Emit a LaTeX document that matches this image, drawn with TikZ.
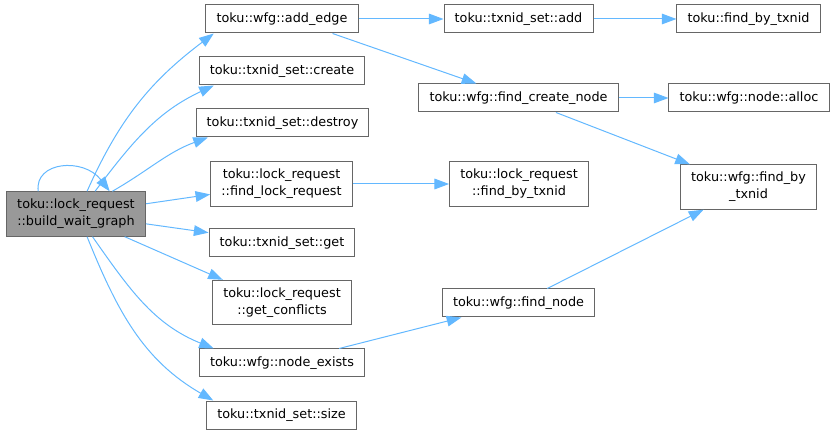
\documentclass[tikz,border=0pt]{standalone}
\usepackage{fontspec}
\setmainfont{DejaVu Sans}
\usepackage{xcolor}
\usetikzlibrary{arrows.meta}
\definecolor{edgeblue}{HTML}{63B8FF}
\definecolor{boxgray}{HTML}{666666}
\definecolor{curgray}{HTML}{999999}

\begin{document}
\begin{tikzpicture}[x=0.75pt,y=-0.75pt,
  f/.style={draw=boxgray,fill=white,line width=0.75pt,inner xsep=8pt,inner ysep=5.5pt,minimum height=21pt,align=center,font=\fontsize{9.6}{12.75}\selectfont},
  c/.style={f,fill=curgray},
  e/.style={edgeblue,line width=0.75pt,-{Triangle[length=11pt,width=8pt]}}]
	\useasboundingbox (0,0) rectangle (835,434);
	\node[c] (bwg) at (76,214) {toku::lock\_request\\::build\_wait\_graph};
	\node[f] (addedge) at (282,19) {toku::wfg::add\_edge};
	\node[f] (create) at (282,71) {toku::txnid\_set::create};
	\node[f] (destroy) at (282.5,123) {toku::txnid\_set::destroy};
	\node[f] (flr) at (281.5,184) {toku::lock\_request\\::find\_lock\_request};
	\node[f] (get) at (282,243) {toku::txnid\_set::get};
	\node[f] (gc) at (282,302.5) {toku::lock\_request\\::get\_conflicts};
	\node[f] (nexists) at (282,363) {toku::wfg::node\_exists};
	\node[f] (size) at (281.5,415) {toku::txnid\_set::size};
	\node[f] (add) at (518.5,19) {toku::txnid\_set::add};
	\node[f] (fbt) at (748.5,19) {toku::find\_by\_txnid};
	\node[f] (fcn) at (518.5,98) {toku::wfg::find\_create\_node};
	\node[f] (alloc) at (749,98) {toku::wfg::node::alloc};
	\node[f] (lrfbt) at (519,184) {toku::lock\_request\\::find\_by\_txnid};
	\node[f] (wfbt) at (748.5,187) {toku::wfg::find\_by\\\_txnid};
	\node[f] (fnode) at (518.5,303) {toku::wfg::find\_node};
	\draw[e] (bwg.149) .. controls +(-4,-30) and +(-26,-34) .. (bwg.34);
	\draw[e] (bwg.64) to[out=66,in=217] (addedge.192);
	\draw[e] (bwg.50) to[out=53,in=205] (create.192);
	\draw[e] (bwg.32) to[out=30,in=200] (destroy.191);
	\draw[e] (bwg) -- (flr);
	\draw[e] (bwg) -- (get);
	\draw[e] (bwg.-25) -- (gc.159);
	\draw[e] (bwg.-54) to[out=-55,in=158] (nexists.168);
	\draw[e] (bwg.-64) to[out=-68,in=150] (size.168);
	\draw[e] (addedge) -- (add);
	\draw[e] (add) -- (fbt);
	\draw[e] (addedge.-16) -- (fcn.161);
	\draw[e] (fcn) -- (alloc);
	\draw[e] (fcn) -- (wfbt);
	\draw[e] (flr) -- (lrfbt);
	\draw[e] (nexists) -- (fnode);
	\draw[e] (fnode) -- (wfbt);
\end{tikzpicture}
\end{document}
